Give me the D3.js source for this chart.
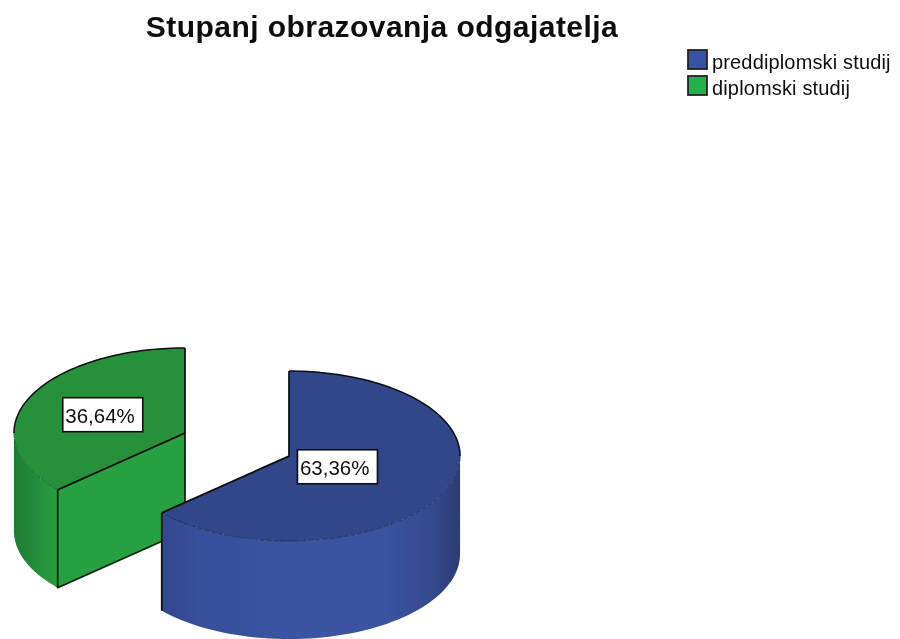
<!DOCTYPE html>
<html>
<head>
<meta charset="utf-8">
<script src="https://cdn.jsdelivr.net/npm/d3@7"></script>
<style>
  html, body { margin: 0; background: #fff; }
  text { font-family: "Liberation Sans", Arial, sans-serif; fill: #111; }
</style>
</head>
<body>
<div id="chart"></div>
<script>
const categories = ["preddiplomski studij", "diplomski studij"];
const percentages = [63.36, 36.64];
const percentLabels = ["63,36%", "36,64%"];
const chartTitle = "Stupanj obrazovanja odgajatelja";

const topColors = ["#31468a", "#27903b"];
const swatchColors = ["#3953a5", "#22b14c"];
const faceColor = "#27a03f";
const wallStops = [
  [[0, "#33488f"], [0.12, "#384f9b"], [0.5, "#3b54a2"], [0.76, "#3a52a0"], [0.9, "#354a8e"], [1, "#2c3c74"]],
  [[0, "#1f7b34"], [0.5, "#248c3a"], [1, "#27a03f"]]
];

const width = 900, height = 639;
const cx = 237, cy = 444.5;   // middle between the two exploded slices
const radius = 171, tilt = 85 / 171, depth = 98, explode = 57;
const labelRadius = [53, 90];

const svg = d3.select("#chart").append("svg")
  .attr("width", width)
  .attr("height", height)
  .style("display", "block");

const defs = svg.append("defs");
wallStops.forEach((stops, i) => {
  const g = defs.append("linearGradient").attr("id", "wall" + i);
  stops.forEach(s => g.append("stop").attr("offset", s[0]).attr("stop-color", s[1]));
});
// the source picture is a soft upscaled bitmap
defs.append("filter").attr("id", "soft")
  .append("feGaussianBlur").attr("stdDeviation", 0.5);

const arcs = d3.pie().sort(null).value(d => d)(percentages);
const arc = d3.arc().innerRadius(0).outerRadius(radius);

// pie angle -> screen position, angle 0 is 12 o'clock
const project = (a, r, c, dz = 0) => [
  c[0] + r * Math.sin(a),
  c[1] - r * Math.cos(a) * tilt + dz
];
const line = d3.line();
const angleSteps = (a0, a1) => d3.range(0, 61).map(k => a0 + (a1 - a0) * k / 60);

function wallPath(a0, a1, c) {
  const steps = angleSteps(a0, a1);
  const upper = steps.map(a => project(a, radius, c));
  const lower = steps.slice().reverse().map(a => project(a, radius, c, depth));
  return line(upper.concat(lower)) + "Z";
}

// green first, the blue slice sits in front of it
[1, 0].forEach(i => {
  const d = arcs[i];
  const mid = (d.startAngle + d.endAngle) / 2;
  const c = project(mid, explode, [cx, cy]);
  const g = svg.append("g").attr("filter", "url(#soft)");

  // curved wall, only the part that faces the viewer
  const a0 = Math.max(d.startAngle, Math.PI / 2);
  const a1 = Math.min(d.endAngle, Math.PI * 3 / 2);
  g.append("path")
    .attr("d", wallPath(a0, a1, c))
    .attr("fill", `url(#wall${i})`);

  // flat cut face, visible when the start edge turns towards the viewer
  if (Math.sin(d.startAngle) < 0) {
    const rim = project(d.startAngle, radius, c);
    g.append("path")
      .attr("d", line([c, rim, [rim[0], rim[1] + depth], [c[0], c[1] + depth]]) + "Z")
      .attr("fill", faceColor)
      .attr("stroke", "#0b1f10")
      .attr("stroke-width", 1.8)
      .attr("stroke-linejoin", "round");
  }

  // top surface
  g.append("path")
    .attr("d", arc(d))
    .attr("transform", `translate(${c[0]},${c[1]}) scale(1,${tilt})`)
    .attr("fill", topColors[i]);

  // thin line where the top meets the wall
  g.append("path")
    .attr("d", line(angleSteps(a0, a1).map(a => project(a, radius, c))))
    .attr("fill", "none")
    .attr("stroke", i ? "#14552a" : "#1c2a55")
    .attr("stroke-width", 0.8)
    .attr("stroke-dasharray", "6 1");

  // dark outline of the top: back rim and the two straight edges
  const rimFrom = i === 1 ? Math.PI * 3 / 2 : d.startAngle;
  const rimTo = i === 1 ? d.endAngle : Math.PI / 2;
  const edge = project(i === 1 ? d.startAngle : d.endAngle, radius, c);
  const other = project(i === 1 ? d.endAngle : d.startAngle, radius, c);
  g.append("path")
    .attr("d", line([edge, c, other]))
    .attr("fill", "none").attr("stroke", "#08100c").attr("stroke-width", 1.8);
  g.append("path")
    .attr("d", line(angleSteps(rimFrom, rimTo).map(a => project(a, radius, c))))
    .attr("fill", "none").attr("stroke", "#08100c").attr("stroke-width", 1.5);
  if (i === 0) {
    g.append("path")
      .attr("d", line([edge, [edge[0], edge[1] + depth]]))
      .attr("stroke", "#0a0f20").attr("stroke-width", 1.8);
  }
});

// value labels in white boxes
const labelW = 80, labelH = 34;
[0, 1].forEach(i => {
  const d = arcs[i];
  const mid = (d.startAngle + d.endAngle) / 2;
  const c = project(mid, explode, [cx, cy]);
  const p = project(mid, labelRadius[i], c);
  const g = svg.append("g")
    .attr("transform", `translate(${p[0]},${p[1]})`)
    .attr("filter", "url(#soft)");
  g.append("rect")
    .attr("x", -labelW / 2).attr("y", -labelH / 2)
    .attr("width", labelW).attr("height", labelH)
    .attr("fill", "#fff").attr("stroke", "#111").attr("stroke-width", 1.6);
  g.append("text")
    .attr("x", -labelW / 2 + 2.5).attr("y", 8)
    .attr("font-size", 20.5)
    .text(percentLabels[i]);
});

svg.append("text")
  .attr("x", 382).attr("y", 37)
  .attr("text-anchor", "middle")
  .attr("font-size", 30)
  .attr("font-weight", "bold")
  .attr("letter-spacing", 0.45)
  .attr("filter", "url(#soft)")
  .text(chartTitle);

// legend
const legendY = d3.scaleBand().domain(categories).range([49, 101]);
const legend = svg.selectAll("g.legend").data(categories).join("g")
  .attr("class", "legend")
  .attr("filter", "url(#soft)")
  .attr("transform", d => `translate(688,${legendY(d)})`);
legend.append("rect")
  .attr("x", 0).attr("y", 1)
  .attr("width", 19).attr("height", 19)
  .attr("fill", (d, i) => swatchColors[i])
  .attr("stroke", "#222")
  .attr("stroke-width", 1.8);
legend.append("text")
  .attr("x", 24).attr("y", 20)
  .attr("font-size", 20)
  .attr("letter-spacing", 0.15)
  .text(d => d);
</script>
</body>
</html>
